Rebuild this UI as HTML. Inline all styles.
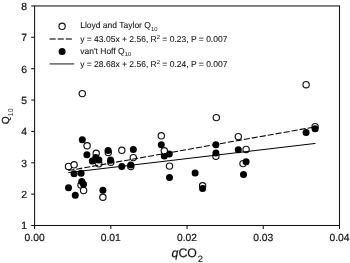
<!DOCTYPE html>
<html><head><meta charset="utf-8"><title>Q10 vs qCO2</title>
<style>html,body{margin:0;padding:0;background:#fff}svg{filter:grayscale(1)}svg text{text-rendering:geometricPrecision;stroke:#111;stroke-width:0.2px;paint-order:stroke}svg,svg text{font-family:"Liberation Sans",sans-serif}body{width:350px;height:263px;overflow:hidden}</style>
</head><body>
<svg width="350" height="263" viewBox="0 0 350 263" style="display:block">
<rect width="350" height="263" fill="#fff"/>
<rect x="34.6" y="5.95" width="304.9" height="219.55" fill="none" stroke="#111" stroke-width="1.05"/>
<line x1="31.200000000000003" y1="225.50" x2="34.6" y2="225.50" stroke="#111" stroke-width="1.05"/>
<text x="27.1" y="229.45" font-size="10.4" text-anchor="end" fill="#111">1</text>
<line x1="31.200000000000003" y1="194.14" x2="34.6" y2="194.14" stroke="#111" stroke-width="1.05"/>
<text x="27.1" y="198.09" font-size="10.4" text-anchor="end" fill="#111">2</text>
<line x1="31.200000000000003" y1="162.77" x2="34.6" y2="162.77" stroke="#111" stroke-width="1.05"/>
<text x="27.1" y="166.72" font-size="10.4" text-anchor="end" fill="#111">3</text>
<line x1="31.200000000000003" y1="131.41" x2="34.6" y2="131.41" stroke="#111" stroke-width="1.05"/>
<text x="27.1" y="135.36" font-size="10.4" text-anchor="end" fill="#111">4</text>
<line x1="31.200000000000003" y1="100.04" x2="34.6" y2="100.04" stroke="#111" stroke-width="1.05"/>
<text x="27.1" y="103.99" font-size="10.4" text-anchor="end" fill="#111">5</text>
<line x1="31.200000000000003" y1="68.68" x2="34.6" y2="68.68" stroke="#111" stroke-width="1.05"/>
<text x="27.1" y="72.63" font-size="10.4" text-anchor="end" fill="#111">6</text>
<line x1="31.200000000000003" y1="37.31" x2="34.6" y2="37.31" stroke="#111" stroke-width="1.05"/>
<text x="27.1" y="41.26" font-size="10.4" text-anchor="end" fill="#111">7</text>
<line x1="31.200000000000003" y1="5.95" x2="34.6" y2="5.95" stroke="#111" stroke-width="1.05"/>
<text x="27.1" y="9.90" font-size="10.4" text-anchor="end" fill="#111">8</text>
<line x1="34.60" y1="225.5" x2="34.60" y2="228.9" stroke="#111" stroke-width="1.05"/>
<text x="34.60" y="241.30" font-size="10.3" text-anchor="middle" fill="#111">0.00</text>
<line x1="110.82" y1="225.5" x2="110.82" y2="228.9" stroke="#111" stroke-width="1.05"/>
<text x="110.82" y="241.30" font-size="10.3" text-anchor="middle" fill="#111">0.01</text>
<line x1="187.05" y1="225.5" x2="187.05" y2="228.9" stroke="#111" stroke-width="1.05"/>
<text x="187.05" y="241.30" font-size="10.3" text-anchor="middle" fill="#111">0.02</text>
<line x1="263.27" y1="225.5" x2="263.27" y2="228.9" stroke="#111" stroke-width="1.05"/>
<text x="263.27" y="241.30" font-size="10.3" text-anchor="middle" fill="#111">0.03</text>
<line x1="339.50" y1="225.5" x2="339.50" y2="228.9" stroke="#111" stroke-width="1.05"/>
<text x="339.50" y="241.30" font-size="10.3" text-anchor="middle" fill="#111">0.04</text>
<circle cx="68.5" cy="166.4" r="3.15" fill="#fff" stroke="#111" stroke-width="1.15"/>
<circle cx="74.1" cy="164.8" r="3.15" fill="#fff" stroke="#111" stroke-width="1.15"/>
<circle cx="82.3" cy="93.6" r="3.15" fill="#fff" stroke="#111" stroke-width="1.15"/>
<circle cx="87.1" cy="145.7" r="3.15" fill="#fff" stroke="#111" stroke-width="1.15"/>
<circle cx="96.2" cy="153.2" r="3.15" fill="#fff" stroke="#111" stroke-width="1.15"/>
<circle cx="98.8" cy="163.8" r="3.15" fill="#fff" stroke="#111" stroke-width="1.15"/>
<circle cx="108.3" cy="152.4" r="3.15" fill="#fff" stroke="#111" stroke-width="1.15"/>
<circle cx="110.8" cy="162.2" r="3.15" fill="#fff" stroke="#111" stroke-width="1.15"/>
<circle cx="81.0" cy="185.0" r="3.15" fill="#fff" stroke="#111" stroke-width="1.15"/>
<circle cx="83.6" cy="190.4" r="3.15" fill="#fff" stroke="#111" stroke-width="1.15"/>
<circle cx="102.9" cy="197.2" r="3.15" fill="#fff" stroke="#111" stroke-width="1.15"/>
<circle cx="121.8" cy="150.3" r="3.15" fill="#fff" stroke="#111" stroke-width="1.15"/>
<circle cx="130.8" cy="166.4" r="3.15" fill="#fff" stroke="#111" stroke-width="1.15"/>
<circle cx="133.3" cy="157.6" r="3.15" fill="#fff" stroke="#111" stroke-width="1.15"/>
<circle cx="161.3" cy="135.8" r="3.15" fill="#fff" stroke="#111" stroke-width="1.15"/>
<circle cx="169.5" cy="166.1" r="3.15" fill="#fff" stroke="#111" stroke-width="1.15"/>
<circle cx="202.6" cy="185.7" r="3.15" fill="#fff" stroke="#111" stroke-width="1.15"/>
<circle cx="215.9" cy="156.2" r="3.15" fill="#fff" stroke="#111" stroke-width="1.15"/>
<circle cx="216.3" cy="117.6" r="3.15" fill="#fff" stroke="#111" stroke-width="1.15"/>
<circle cx="238.3" cy="136.6" r="3.15" fill="#fff" stroke="#111" stroke-width="1.15"/>
<circle cx="246.1" cy="149.4" r="3.15" fill="#fff" stroke="#111" stroke-width="1.15"/>
<circle cx="243.0" cy="163.6" r="3.15" fill="#fff" stroke="#111" stroke-width="1.15"/>
<circle cx="306.1" cy="84.7" r="3.15" fill="#fff" stroke="#111" stroke-width="1.15"/>
<circle cx="315.1" cy="126.7" r="3.15" fill="#fff" stroke="#111" stroke-width="1.15"/>
<circle cx="68.5" cy="187.7" r="3.5" fill="#000"/>
<circle cx="75.3" cy="195.2" r="3.5" fill="#000"/>
<circle cx="74.1" cy="173.8" r="3.5" fill="#000"/>
<circle cx="81.1" cy="173.3" r="3.5" fill="#000"/>
<circle cx="81.8" cy="181.6" r="3.5" fill="#000"/>
<circle cx="83.5" cy="184.2" r="3.5" fill="#000"/>
<circle cx="82.3" cy="139.8" r="3.5" fill="#000"/>
<circle cx="86.9" cy="154.8" r="3.5" fill="#000"/>
<circle cx="92.3" cy="160.9" r="3.5" fill="#000"/>
<circle cx="95.8" cy="157.5" r="3.5" fill="#000"/>
<circle cx="98.9" cy="160.0" r="3.5" fill="#000"/>
<circle cx="108.1" cy="150.5" r="3.5" fill="#000"/>
<circle cx="110.6" cy="159.9" r="3.5" fill="#000"/>
<circle cx="102.9" cy="190.2" r="3.5" fill="#000"/>
<circle cx="121.8" cy="166.4" r="3.5" fill="#000"/>
<circle cx="130.8" cy="165.1" r="3.5" fill="#000"/>
<circle cx="133.3" cy="149.4" r="3.5" fill="#000"/>
<circle cx="161.3" cy="144.7" r="3.5" fill="#000"/>
<circle cx="164.3" cy="156.1" r="3.5" fill="#000"/>
<circle cx="169.3" cy="153.9" r="3.5" fill="#000"/>
<circle cx="169.5" cy="177.6" r="3.5" fill="#000"/>
<circle cx="195.1" cy="173.1" r="3.5" fill="#000"/>
<circle cx="202.6" cy="188.4" r="3.5" fill="#000"/>
<circle cx="215.9" cy="144.7" r="3.5" fill="#000"/>
<circle cx="215.9" cy="153.0" r="3.5" fill="#000"/>
<circle cx="238.3" cy="149.7" r="3.5" fill="#000"/>
<circle cx="246.1" cy="161.8" r="3.5" fill="#000"/>
<circle cx="243.5" cy="174.4" r="3.5" fill="#000"/>
<circle cx="306.1" cy="132.5" r="3.5" fill="#000"/>
<circle cx="315.1" cy="128.7" r="3.5" fill="#000"/>
<circle cx="164.3" cy="150.8" r="3.15" fill="#fff" stroke="#111" stroke-width="1.15"/>
<line x1="68.29" y1="170.60" x2="315.49" y2="126.82" stroke="#000" stroke-width="1.05" stroke-dasharray="6.1 2"/>
<line x1="68.29" y1="172.60" x2="315.49" y2="143.42" stroke="#000" stroke-width="1.0"/>
<circle cx="62.1" cy="26.3" r="3.15" fill="#fff" stroke="#111" stroke-width="1.15"/>
<line x1="49.6" y1="39.0" x2="72.2" y2="39.0" stroke="#4a4a4a" stroke-width="1.3" stroke-dasharray="6.1 2"/>
<circle cx="62.1" cy="51.4" r="3.5" fill="#000"/>
<line x1="49.6" y1="63.9" x2="74.2" y2="63.9" stroke="#4a4a4a" stroke-width="1.3"/>
<text x="80.2" y="28.0" font-size="8.5" fill="#111" style="stroke-width:0.08px">Lloyd and Taylor Q<tspan font-size="5.8" dy="2.7" stroke="none">10</tspan></text>
<text x="80.2" y="42.2" font-size="8.5" fill="#111" style="stroke-width:0.08px">y = 43.05x + 2.56, R<tspan font-size="5.8" dy="-3.2" stroke="none">2</tspan><tspan dy="3.2"> = 0.23, P = 0.007</tspan></text>
<text x="80.2" y="53.6" font-size="8.5" fill="#111" style="stroke-width:0.08px">van't Hoff Q<tspan font-size="5.8" dy="2.7" stroke="none">10</tspan></text>
<text x="80.2" y="67.3" font-size="8.5" fill="#111" style="stroke-width:0.08px">y = 28.68x + 2.56, R<tspan font-size="5.8" dy="-3.2" stroke="none">2</tspan><tspan dy="3.2"> = 0.24, P = 0.007</tspan></text>
<text x="171.6" y="256.9" font-size="12.3" fill="#111"><tspan font-style="italic">q</tspan>CO<tspan font-size="9.4" dy="4.6" dx="0.9" stroke-width="0.1">2</tspan></text>
<text transform="translate(8.8,124.2) rotate(-90)" font-size="10.3" fill="#111">Q<tspan font-size="6.9" dy="3.8" stroke="none">10</tspan></text>
</svg>
</body></html>
